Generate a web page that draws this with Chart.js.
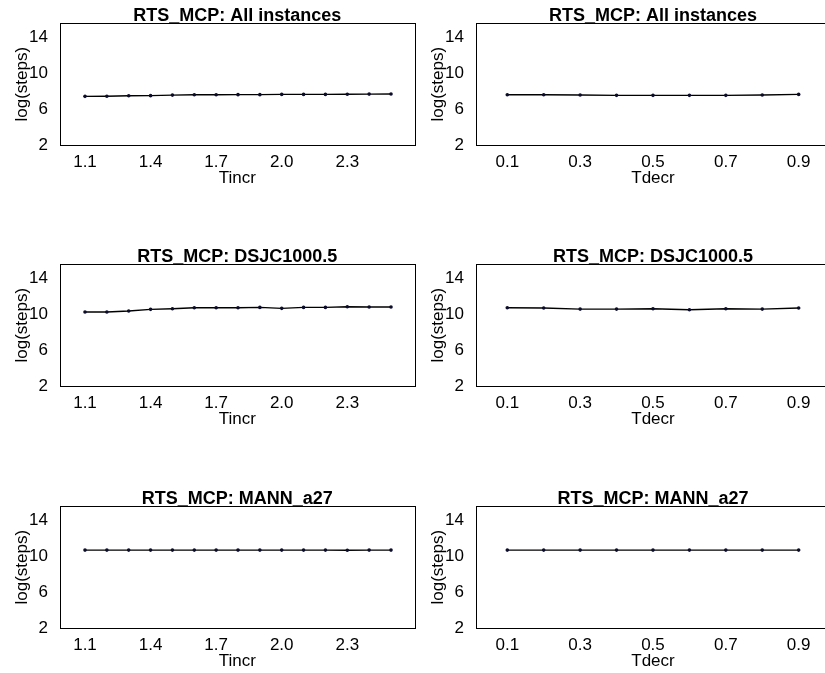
<!DOCTYPE html>
<html>
<head>
<meta charset="utf-8">
<script src="https://cdn.jsdelivr.net/npm/chart.js@4.4.0/dist/chart.umd.min.js"></script>
<style>
  html, body { margin: 0; padding: 0; background: #fff; overflow: hidden; width: 825px; height: 673px; }
  canvas { position: absolute; }
</style>
</head>
<body>
<canvas id="p1" width="420" height="195" style="left:0;top:0"></canvas>
<canvas id="p2" width="420" height="195" style="left:416px;top:0"></canvas>
<canvas id="p3" width="420" height="195" style="left:0;top:241px"></canvas>
<canvas id="p4" width="420" height="195" style="left:416px;top:241px"></canvas>
<canvas id="p5" width="420" height="195" style="left:0;top:483px"></canvas>
<canvas id="p6" width="420" height="195" style="left:416px;top:483px"></canvas>
<script>
// parameter values on the x axis
const tincr = [1.1, 1.2, 1.3, 1.4, 1.5, 1.6, 1.7, 1.8, 1.9, 2.0, 2.1, 2.2, 2.3, 2.4, 2.5];
const tdecr = [0.1, 0.2, 0.3, 0.4, 0.5, 0.6, 0.7, 0.8, 0.9];

// log(steps)
const allTincr  = [7.42, 7.43, 7.48, 7.50, 7.56, 7.60, 7.60, 7.61, 7.61, 7.64, 7.64, 7.64, 7.65, 7.67, 7.68];
const allTdecr  = [7.60, 7.60, 7.57, 7.53, 7.53, 7.53, 7.53, 7.57, 7.64];
const dsjcTincr = [10.24, 10.24, 10.35, 10.54, 10.61, 10.72, 10.72, 10.72, 10.76, 10.65, 10.76, 10.76, 10.83, 10.80, 10.80];
const dsjcTdecr = [10.72, 10.69, 10.57, 10.57, 10.61, 10.50, 10.61, 10.57, 10.69];
const mannTincr = [10.68, 10.68, 10.68, 10.68, 10.68, 10.68, 10.68, 10.68, 10.68, 10.68, 10.68, 10.68, 10.66, 10.68, 10.68];
const mannTdecr = [10.68, 10.68, 10.68, 10.68, 10.68, 10.68, 10.68, 10.68, 10.68];

// tick labels
const tincrTicks = [1.1, 1.4, 1.7, 2.0, 2.3];
const tdecrTicks = [0.1, 0.3, 0.5, 0.7, 0.9];
const yTicks = [2, 6, 10, 14];

const titles = ['RTS_MCP: All instances', 'RTS_MCP: DSJC1000.5', 'RTS_MCP: MANN_a27'];

const FONT = "'Liberation Sans', Arial, Helvetica, sans-serif";

// box around the plotting region, like R's box()
const frame = {
  id: 'frame',
  beforeDatasetsDraw(chart) {
    const { ctx, chartArea: a } = chart;
    ctx.save();
    ctx.strokeStyle = '#000';
    ctx.lineWidth = 1;
    ctx.strokeRect(Math.round(a.left) + 0.5, Math.round(a.top) + 0.5,
                   Math.round(a.right - a.left), Math.round(a.bottom - a.top));
    ctx.restore();
  }
};

function makePanel(id, xs, ys, title, xTicks, xName, xMin, xMax, padRight) {
  const ctx = document.getElementById(id).getContext('2d');
  new Chart(ctx, {
    type: 'scatter',
    data: {
      datasets: [{
        data: xs.map((x, i) => ({ x: x, y: ys[i] })),
        showLine: true,
        borderColor: '#000',
        borderWidth: 1.4,
        pointRadius: 1.8,
        pointBackgroundColor: '#0b0b2a',
        pointBorderColor: '#0b0b2a',
        pointBorderWidth: 0
      }]
    },
    options: {
      responsive: false,
      animation: false,
      events: [],
      layout: { padding: { left: 0, right: padRight, top: 0, bottom: 0 } },
      scales: {
        x: {
          type: 'linear',
          min: xMin,
          max: xMax,
          afterBuildTicks: (s) => { s.ticks = xTicks.map(v => ({ value: v })); },
          afterFit: (s) => { s.height = 50; },
          grid: { display: false, drawTicks: false },
          border: { display: false },
          ticks: {
            padding: 7,
            color: '#000',
            font: { family: FONT, size: 17 },
            maxRotation: 0,
            callback: (v) => v.toFixed(1)
          },
          title: {
            display: true,
            text: xName,
            color: '#000',
            font: { family: FONT, size: 17 },
            padding: { top: 0, bottom: 6.5 }
          }
        },
        y: {
          min: 2,
          max: 15.55,
          afterBuildTicks: (s) => { s.ticks = yTicks.map(v => ({ value: v })); },
          afterFit: (s) => { s.width = 60; },
          grid: { display: false, drawTicks: false },
          border: { display: false },
          ticks: {
            padding: 12,
            color: '#000',
            font: { family: FONT, size: 17 }
          },
          title: {
            display: true,
            text: 'log(steps)',
            color: '#000',
            font: { family: FONT, size: 17 },
            padding: { top: 12, bottom: 0 }
          }
        }
      },
      plugins: {
        legend: { display: false },
        tooltip: { enabled: false },
        title: {
          display: true,
          fullSize: false,
          text: title,
          color: '#000',
          font: { family: FONT, size: 18, weight: 'bold', lineHeight: 0.8 },
          padding: { top: 9, bottom: 0 }
        }
      }
    },
    plugins: [frame]
  });
}

makePanel('p1', tincr, allTincr,  titles[0], tincrTicks, 'Tincr', 0.9856, 2.6075, 5.5);
makePanel('p2', tdecr, allTdecr,  titles[0], tdecrTicks, 'Tdecr', 0.0141, 0.986, 6);
makePanel('p3', tincr, dsjcTincr, titles[1], tincrTicks, 'Tincr', 0.9856, 2.6075, 5.5);
makePanel('p4', tdecr, dsjcTdecr, titles[1], tdecrTicks, 'Tdecr', 0.0141, 0.986, 6);
makePanel('p5', tincr, mannTincr, titles[2], tincrTicks, 'Tincr', 0.9856, 2.6075, 5.5);
makePanel('p6', tdecr, mannTdecr, titles[2], tdecrTicks, 'Tdecr', 0.0141, 0.986, 6);
</script>
</body>
</html>
